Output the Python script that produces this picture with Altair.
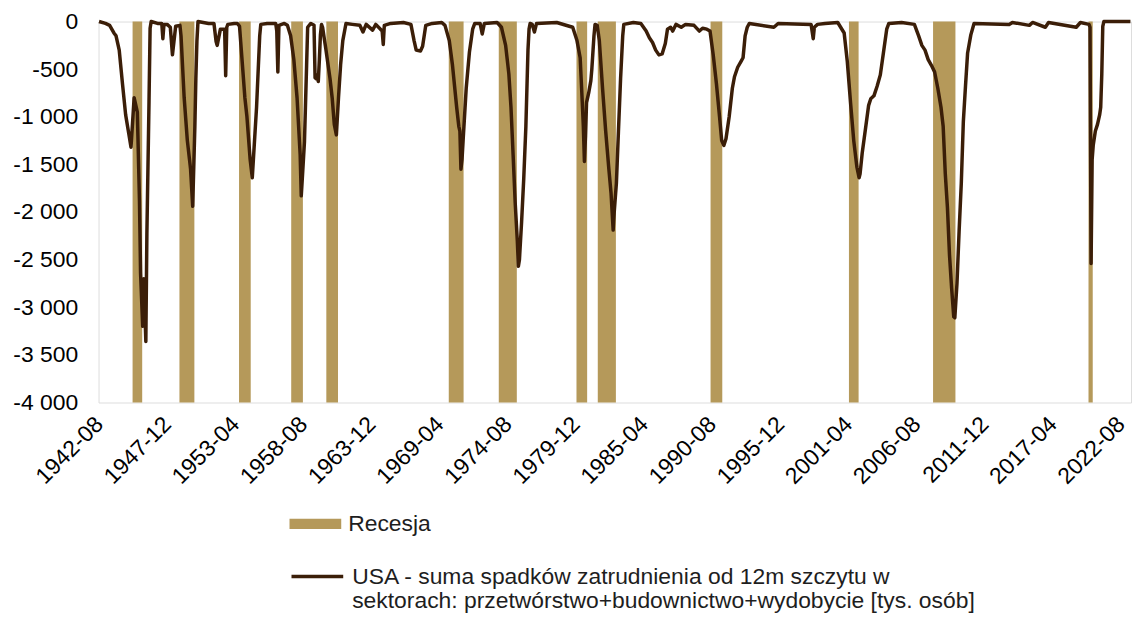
import altair as alt
import pandas as pd

FONT = "Liberation Sans"
TAN = "#b5995a"
BROWN = "#3b1e08"
TEXT = "#1e1e1e"

# --- line series: month, value [tys. osób] ---
line_months = [
    "1942-08", "1943-02", "1943-06", "1943-10", "1943-12", "1944-03", "1944-06", "1944-09",
    "1944-12", "1945-02", "1945-05", "1945-08", "1945-10", "1945-11", "1946-01", "1946-02",
    "1946-04", "1946-05", "1946-07", "1946-08", "1946-09", "1947-03", "1947-07", "1947-08",
    "1947-09", "1947-12", "1948-03", "1948-05", "1948-08", "1948-12", "1949-01", "1949-04",
    "1949-07", "1949-09", "1949-10", "1949-12", "1950-02", "1950-03", "1950-04", "1950-05",
    "1951-03", "1951-08", "1951-10", "1951-11", "1952-02", "1952-06", "1952-07", "1952-08",
    "1952-09", "1953-03", "1953-06", "1953-08", "1953-11", "1954-01", "1954-03", "1954-06",
    "1954-08", "1954-09", "1954-12", "1955-03", "1955-04", "1955-10", "1956-06", "1956-07",
    "1956-08", "1956-09", "1957-02", "1957-05", "1957-08", "1957-11", "1958-02", "1958-05",
    "1958-06", "1958-07", "1958-09", "1958-11", "1958-12", "1959-03", "1959-06", "1959-07",
    "1959-08", "1959-09", "1959-10", "1959-11", "1959-12", "1960-01", "1960-02", "1960-05",
    "1960-09", "1960-11", "1961-01", "1961-03", "1961-05", "1961-07", "1961-09", "1961-12",
    "1962-06", "1963-01", "1963-04", "1963-07", "1964-01", "1964-04", "1964-10", "1964-11",
    "1964-12", "1965-06", "1966-06", "1967-01", "1967-04", "1967-06", "1967-10", "1967-12",
    "1968-03", "1968-09", "1969-06", "1969-09", "1970-01", "1970-04", "1970-08", "1970-10",
    "1970-11", "1970-12", "1971-01", "1971-02", "1971-05", "1971-08", "1971-11", "1972-01",
    "1972-06", "1972-08", "1972-10", "1973-10", "1974-02", "1974-06", "1974-09", "1974-11",
    "1975-01", "1975-03", "1975-05", "1975-06", "1975-07", "1975-09", "1975-11", "1976-01",
    "1976-03", "1976-04", "1976-05", "1976-07", "1976-09", "1976-11", "1978-06", "1979-09",
    "1980-01", "1980-04", "1980-06", "1980-07", "1980-08", "1980-09", "1980-10", "1980-12",
    "1981-02", "1981-03", "1981-05", "1981-06", "1981-08", "1981-10", "1982-01", "1982-04",
    "1982-07", "1982-09", "1982-11", "1982-12", "1983-02", "1983-04", "1983-06", "1983-08",
    "1983-09", "1984-06", "1985-01", "1985-06", "1985-09", "1985-12", "1986-03", "1986-06",
    "1986-09", "1986-12", "1987-02", "1987-05", "1987-07", "1987-10", "1988-03", "1988-07",
    "1989-03", "1989-08", "1989-11", "1990-03", "1990-06", "1990-09", "1990-12", "1991-03",
    "1991-05", "1991-07", "1991-09", "1991-12", "1992-03", "1992-05", "1992-08", "1992-11",
    "1993-01", "1993-03", "1993-05", "1993-07", "1995-06", "1995-10", "1998-05", "1998-07",
    "1998-08", "1998-11", "1999-06", "2000-06", "2000-12", "2001-03", "2001-06", "2001-09",
    "2001-12", "2002-02", "2002-03", "2002-05", "2002-08", "2002-11", "2003-01", "2003-04",
    "2003-07", "2003-10", "2004-01", "2004-04", "2004-06", "2005-06", "2006-06", "2006-10",
    "2007-01", "2007-04", "2007-07", "2007-10", "2008-01", "2008-04", "2008-07", "2008-09",
    "2008-11", "2009-01", "2009-03", "2009-05", "2009-07", "2009-08", "2009-10", "2009-12",
    "2010-02", "2010-04", "2010-06", "2010-08", "2010-11", "2011-02", "2013-11", "2014-02",
    "2015-06", "2015-09", "2016-09", "2016-12", "2019-02", "2019-06", "2020-02", "2020-03",
    "2020-04", "2020-05", "2020-06", "2020-08", "2020-10", "2020-12", "2021-01", "2021-02",
    "2021-03", "2021-04", "2023-05",
]
line_values = [
    0, -20, -40, -120, -150, -300, -650, -980,
    -1180, -1320, -800, -950, -1880, -2640, -3200, -2700,
    -3360, -2230, -840, -70, 0, -20, -20, -180,
    -30, -30, -60, -350, -50, -40, -150, -800,
    -1250, -1450, -1550, -1940, -1100, -600, -200, 0,
    -20, -20, -210, -250, -80, -80, -570, -60,
    -30, -20, -20, -50, -500, -800, -1000, -1450,
    -1640, -1450, -900, -150, -30, -20, -20, -100,
    -530, -40, -20, -40, -150, -400, -800, -1400,
    -1830, -1650, -1260, -460, -60, -20, -40, -590,
    -600, -560, -630, -400, -140, -30, -60, -280,
    -600, -800, -1080, -1190, -800, -450, -200, -20,
    -30, -40, -110, -30, -90, -30, -100, -240,
    -40, -20, -10, -30, -200, -300, -310, -260,
    -40, -20, -10, -40, -200, -450, -900, -1100,
    -1150, -1550, -1450, -1250, -700, -320, -80, -20,
    -20, -130, -20, -10, -60, -250, -550, -900,
    -1400, -1900, -2300, -2570, -2500, -2100, -1650, -1100,
    -300, -80, -20, -30, -110, -20, -10, -60,
    -200, -380, -850, -1100, -1470, -1200, -850, -750,
    -620, -500, -150, -30, -40, -200, -700, -1150,
    -1550, -1800, -2190, -2000, -1700, -1150, -600, -150,
    -30, -10, -20, -100, -170, -220, -300, -350,
    -340, -230, -80, -60, -100, -30, -60, -30,
    -40, -100, -70, -80, -100, -350, -650, -1000,
    -1250, -1300, -1230, -1000, -700, -580, -480, -420,
    -380, -150, -60, -20, -60, -20, -30, -180,
    -60, -30, -20, -10, -120, -420, -850, -1250,
    -1530, -1640, -1600, -1380, -1130, -880, -810, -780,
    -680, -560, -320, -80, -20, -10, -30, -150,
    -250, -300, -400, -460, -530, -700, -900, -1100,
    -1600, -1950, -2450, -2800, -3100, -3110, -2750, -2200,
    -1700, -1050, -680, -330, -140, -20, -30, -10,
    -40, -10, -60, -10, -60, -10, -30, -60,
    -2540, -1450, -1300, -1150, -1080, -980, -900, -550,
    -50, 0, 0,
]

# --- recession shading: first month, month after the last shaded month ---
rec_start = ["1945-04", "1948-12", "1953-08", "1957-09", "1960-06", "1970-01", "1973-12",
             "1980-01", "1981-09", "1990-07", "2001-05", "2007-12", "2020-02"]
rec_end = ["1946-01", "1950-02", "1954-07", "1958-08", "1961-05", "1971-03", "1975-05",
           "1980-11", "1983-02", "1991-06", "2002-02", "2009-09", "2020-06"]

# --- axis ticks ---
tick_months = ["1942-08", "1947-12", "1953-04", "1958-08", "1963-12", "1969-04", "1974-08",
               "1979-12", "1985-04", "1990-08", "1995-12", "2001-04", "2006-08", "2011-12",
               "2017-04", "2022-08"]
y_ticks = [-4000, -3500, -3000, -2500, -2000, -1500, -1000, -500, 0]
x_domain = ["1942-08", "2023-06"]

REC_LABEL = "Recesja"
LINE_LABEL = ("USA - suma spadków zatrudnienia od 12m szczytu w\n"
              "sektorach: przetwórstwo+budownictwo+wydobycie [tys. osób]")

line_df = pd.DataFrame({
    "date": [m + "-15" for m in line_months],
    "value": line_values,
    "series": LINE_LABEL,
})
rec_df = pd.DataFrame({
    "start": [m + "-01" for m in rec_start],
    "end": [m + "-01" for m in rec_end],
    "top": y_ticks[-1],
    "bottom": y_ticks[0],
    "series": REC_LABEL,
})


def dt(ym, day):
    y, m = ym.split("-")
    return alt.DateTime(year=int(y), month=int(m), date=day, utc=True)


x_scale = alt.Scale(type="utc", domain=[dt(x_domain[0], 1), dt(x_domain[1], 1)])
x_axis = alt.Axis(
    values=[dt(t, 15) for t in tick_months],
    labelExpr="utcFormat(datum.value, '%Y-%m')",
    labelAngle=315, labelAlign="right", labelBaseline="middle",
    labelPadding=18, labelFontSize=23, labelOverlap=False,
    ticks=False, domain=False, grid=False, title=None,
)
y_scale = alt.Scale(domain=[y_ticks[0], y_ticks[-1]], nice=False, zero=False)
y_axis = alt.Axis(
    values=y_ticks,
    labelExpr="(datum.value < 0 ? '-' : '') + replace(format(abs(datum.value), ','), ',', ' ')",
    labelPadding=21, labelFontSize=23,
    ticks=False, domain=False, grid=False, title=None,
)

common_legend = dict(
    title=None, orient="none", direction="vertical", padding=0,
    symbolSize=2704, labelFont=FONT, labelFontSize=23, labelColor=TEXT,
    labelLimit=2000, labelOffset=7, symbolOpacity=1,
)

rec_fill = alt.Fill(
    "series:N",
    scale=alt.Scale(domain=[REC_LABEL], range=[TAN]),
    legend=alt.Legend(legendX=192, legendY=479, symbolType="M-1,-0.2H1V0.2H-1Z",
                      symbolStrokeWidth=0, **common_legend),
)
line_stroke = alt.Stroke(
    "series:N",
    scale=alt.Scale(domain=[LINE_LABEL], range=[BROWN]),
    legend=alt.Legend(legendX=192, legendY=530, symbolType="M-1,0H1",
                      symbolStrokeWidth=3.5,
                      labelExpr="split(datum.label, '\\n')", **common_legend),
)

bars = alt.Chart(rec_df).mark_rect().encode(
    x=alt.X("start:T", scale=x_scale, axis=x_axis),
    x2="end:T",
    y=alt.Y("top:Q", scale=y_scale, axis=y_axis),
    y2="bottom:Q",
    fill=rec_fill,
)

line = alt.Chart(line_df).mark_line(strokeWidth=3.5, strokeJoin="round").encode(
    x=alt.X("date:T", scale=x_scale, axis=x_axis),
    y=alt.Y("value:Q", scale=y_scale, axis=y_axis),
    stroke=line_stroke,
)

chart = alt.layer(bars, line).resolve_scale(
    fill="independent", stroke="independent"
).properties(
    width=1038, height=383,
    autosize=alt.AutoSizeParams(type="none"),
    padding={"left": 91, "top": 12, "right": 6, "bottom": 212},
).configure_view(
    stroke="#a6a6a6", strokeWidth=1.5,
).configure_axis(
    labelFont=FONT, labelColor=TEXT,
).configure(background="white")

chart.save("out.html", embed_options={"renderer": "svg", "actions": False})
